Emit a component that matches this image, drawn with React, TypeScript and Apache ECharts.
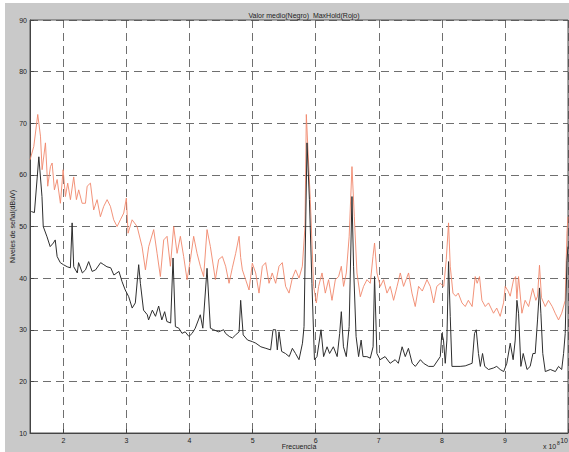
import React, { useEffect, useRef } from "react";
import * as echarts from "echarts";

const TITLE = "Valor medio(Negro)  MaxHold(Rojo)";
const X_NAME = "Frecuencia";
const Y_NAME = "Niveles de señal(dBuV)";
const X_MIN = 1.47;
const X_MAX = 10;
const Y_MIN = 10;
const Y_MAX = 90;

// Valor medio (negro): [frecuencia x1e8, nivel dBuV]
const blackFreq = [
  1.49, 1.54, 1.61, 1.66, 1.68, 1.74, 1.79, 1.84, 1.87, 1.9, 1.95, 2.0, 2.06, 2.11, 2.138, 2.163, 2.22, 2.24, 2.3, 2.35,
  2.4, 2.455, 2.51, 2.59, 2.64, 2.69, 2.75, 2.8, 2.88, 2.93, 2.98, 3.035, 3.09, 3.14, 3.193, 3.22, 3.27, 3.33, 3.35, 3.41,
  3.46, 3.51, 3.56, 3.605, 3.64, 3.7, 3.738, 3.775, 3.83, 3.88, 3.93, 3.99, 4.04, 4.09, 4.14, 4.17, 4.21, 4.277, 4.33, 4.38,
  4.46, 4.54, 4.57, 4.63, 4.68, 4.73, 4.785, 4.81, 4.85, 4.92, 4.995, 5.05, 5.13, 5.21, 5.285, 5.323, 5.365, 5.391, 5.418, 5.46,
  5.52, 5.58, 5.63, 5.68, 5.735, 5.79, 5.815, 5.862, 5.9, 5.94, 5.98, 6.02, 6.084, 6.125, 6.18, 6.22, 6.28, 6.34, 6.38, 6.406,
  6.44, 6.485, 6.53, 6.575, 6.6, 6.64, 6.68, 6.72, 6.75, 6.81, 6.865, 6.91, 6.933, 6.97, 7.02, 7.1, 7.18, 7.26, 7.31, 7.37,
  7.42, 7.47, 7.53, 7.58, 7.66, 7.71, 7.79, 7.87, 7.975, 8.0, 8.026, 8.054, 8.08, 8.106, 8.133, 8.16, 8.29, 8.37, 8.48, 8.518,
  8.545, 8.58, 8.61, 8.645, 8.68, 8.74, 8.82, 8.87, 8.925, 8.98, 9.03, 9.084, 9.13, 9.163, 9.19, 9.216, 9.253, 9.29, 9.35, 9.4,
  9.444, 9.48, 9.517, 9.548, 9.57, 9.6, 9.64, 9.72, 9.8, 9.85, 9.9, 9.93, 9.956, 9.983, 10.0,
];
const blackLevel = [
  52.9, 52.7, 63.5, 55.8, 50, 48, 46.1, 46.8, 47.4, 44.2, 43, 42.6, 42.2, 42, 50.7, 42.2, 41, 43, 41, 41.6,
  43.2, 41.3, 41.6, 43, 42.6, 42.2, 42, 40.6, 41.3, 39.3, 37.7, 36.4, 34.2, 35.2, 42.6, 39, 33.8, 32.9, 31.9, 33.8,
  32.6, 34.6, 31.9, 33.5, 31.6, 31.3, 43.9, 30.6, 30.3, 29.3, 29.6, 28.7, 29.3, 30.3, 31.9, 32.9, 30.3, 41.9, 30.3, 30,
  29.6, 30, 29.3, 28.7, 28.4, 29, 29.6, 35.7, 29, 28, 27.7, 27.4, 26.7, 26.4, 26.1, 30, 30, 26.1, 29.6, 25.8,
  25.4, 24.8, 26.4, 25.4, 24.2, 27.4, 30.6, 66.2, 55.2, 39, 24.2, 24.8, 30, 24.8, 26.7, 25.4, 26.7, 24.8, 29.3, 33.5,
  26.7, 24.8, 30.6, 55.8, 42.3, 28.7, 24.8, 28, 24.8, 24.8, 24.5, 26.7, 40.3, 25.4, 24.2, 24.8, 23.5, 24.2, 23.5, 26.7,
  24.8, 26.4, 23.5, 22.9, 24.2, 23.5, 22.9, 22.9, 24.8, 29.3, 28, 23.5, 28, 43.2, 32.6, 22.9, 22.9, 23, 23.5, 29.3,
  30, 25.4, 22.9, 25.4, 22.9, 22.3, 22.6, 22.9, 22.3, 21.9, 23.5, 27.4, 24.2, 28, 35.7, 33.2, 22.9, 25.4, 22.3, 22.9,
  25.4, 25.4, 31.9, 38.1, 33.2, 25.4, 21.9, 22.3, 21.9, 22.9, 22.3, 25.4, 29.3, 43.4, 46.1,
];

// MaxHold (rojo)
const redFreq = [
  1.47, 1.53, 1.593, 1.636, 1.662, 1.715, 1.751, 1.794, 1.821, 1.857, 1.9, 1.952, 1.995, 2.032, 2.068, 2.111, 2.163, 2.206, 2.242, 2.296,
  2.349, 2.376, 2.428, 2.48, 2.534, 2.586, 2.639, 2.693, 2.745, 2.797, 2.851, 2.903, 2.956, 2.998, 3.025, 3.089, 3.168, 3.247, 3.3, 3.352,
  3.431, 3.485, 3.537, 3.59, 3.643, 3.696, 3.748, 3.802, 3.854, 3.906, 3.96, 4.013, 4.065, 4.119, 4.171, 4.223, 4.277, 4.33, 4.409, 4.461,
  4.52, 4.572, 4.626, 4.678, 4.731, 4.785, 4.81, 4.837, 4.889, 4.943, 4.995, 5.048, 5.101, 5.154, 5.206, 5.26, 5.31, 5.365, 5.418, 5.47,
  5.523, 5.577, 5.629, 5.681, 5.735, 5.788, 5.83, 5.851, 5.914, 5.967, 6.01, 6.046, 6.1, 6.152, 6.204, 6.258, 6.311, 6.363, 6.406, 6.442,
  6.485, 6.53, 6.575, 6.612, 6.654, 6.707, 6.759, 6.813, 6.865, 6.908, 6.933, 6.971, 7.024, 7.076, 7.13, 7.182, 7.235, 7.29, 7.341, 7.393,
  7.472, 7.526, 7.578, 7.631, 7.69, 7.764, 7.816, 7.87, 7.92, 7.975, 8.03, 8.07, 8.106, 8.133, 8.176, 8.22, 8.26, 8.319, 8.371, 8.42,
  8.48, 8.529, 8.56, 8.597, 8.635, 8.688, 8.74, 8.819, 8.87, 8.925, 8.978, 9.005, 9.05, 9.084, 9.137, 9.17, 9.19, 9.216, 9.269, 9.32,
  9.375, 9.44, 9.49, 9.517, 9.548, 9.58, 9.639, 9.69, 9.75, 9.797, 9.85, 9.9, 9.956, 9.983, 10.0,
];
const redLevel = [
  62.9, 65.5, 71.7, 67.5, 61, 66.2, 57.8, 61.6, 62.3, 57.1, 59.1, 54.5, 61, 55.8, 58.4, 55.2, 59.6, 55.2, 57.1, 54.5,
  54.5, 57.8, 58.4, 53.2, 55.2, 51.9, 53.9, 55.2, 53.9, 51.3, 50, 51.3, 52.6, 55.5, 48.7, 51.3, 50, 46.1, 41.6, 46.1,
  49.4, 44.8, 40.3, 47.4, 48.1, 42.3, 50, 44.8, 48.1, 44.2, 39.7, 43.6, 48.1, 44.8, 42.3, 40.3, 49.4, 46.1, 39.7, 43.6,
  44.2, 42.3, 39, 42, 44.8, 48.1, 44, 41.6, 39.7, 37.7, 42.9, 41, 37.1, 42.3, 43, 39, 41, 39, 42.3, 43,
  38.4, 37.1, 40, 41.6, 40, 42.3, 50, 71.7, 55.2, 38.4, 35.2, 38.4, 41, 37.1, 39.7, 35.7, 39.7, 40.3, 42.3, 38.4,
  41, 48, 61.6, 51.9, 41, 36.4, 38.4, 39.7, 39, 44.2, 46.8, 41, 38.4, 39.7, 37.1, 38.4, 35.7, 38.4, 41, 38.4,
  41, 37.1, 34.5, 38.4, 37.5, 39.7, 38.4, 35.2, 38.4, 39, 38.4, 43.6, 50.7, 42.3, 37.1, 36.5, 37.1, 35.2, 34.5, 35.7,
  34.5, 40.3, 39, 40.3, 35.7, 34.5, 35.2, 33.2, 34.2, 32.6, 35.2, 38.4, 37.5, 36.5, 39.7, 40.3, 36, 40.3, 33.2, 35.7,
  34.5, 38, 35.7, 36.5, 42.5, 36.2, 34.5, 35.7, 34.5, 33.2, 31.9, 33.2, 35.7, 48.7, 51.9,
];

const FONT = "'Liberation Sans', Arial, sans-serif";

export default function App() {
  const ref = useRef<HTMLDivElement>(null);
  useEffect(() => {
    document.body.style.margin = "0";
    if (!ref.current) return;
    const chart = echarts.init(ref.current, undefined, { renderer: "svg" });
    const blackData = blackFreq.map((f, i) => [f, blackLevel[i]]);
    const redData = redFreq.map((f, i) => [f, redLevel[i]]);
    const gridLine = { show: true, lineStyle: { color: "#4a4a4a", width: 0.8, type: [8, 5] as number[] } };
    chart.setOption({
      animation: false,
      backgroundColor: "#c9c9c9",
      textStyle: { fontFamily: FONT },
      title: {
        text: TITLE,
        left: 299,
        top: 7,
        textAlign: "center",
        textStyle: { fontSize: 7, fontWeight: "normal", color: "#222", fontFamily: FONT },
      },
      grid: {
        left: 30,
        top: 20,
        right: 1,
        bottom: 19,
        containLabel: false,
        outerBoundsMode: "none",
        show: true,
        backgroundColor: "#ffffff",
        borderColor: "#555",
        borderWidth: 1,
      },
      xAxis: {
        type: "value",
        min: X_MIN,
        max: X_MAX,
        splitNumber: 8,
        minInterval: 1,
        maxInterval: 1,
        name: X_NAME,
        nameLocation: "middle",
        nameGap: 10,
        nameMoveOverlap: false,
        nameTextStyle: { fontSize: 7, color: "#222", fontFamily: FONT },
        axisLine: { show: true, lineStyle: { color: "#444", width: 1 } },
        axisTick: { show: true, inside: true, length: 4, lineStyle: { color: "#444" } },
        axisLabel: { showMinLabel: false, alignMaxLabel: "right", fontSize: 7, color: "#222", margin: 4, fontFamily: FONT },
        splitLine: gridLine,
      },
      yAxis: {
        type: "value",
        min: Y_MIN,
        max: Y_MAX,
        interval: 10,
        name: Y_NAME,
        nameLocation: "middle",
        nameGap: 14,
        nameMoveOverlap: false,
        nameRotate: 90,
        nameTextStyle: { fontSize: 7, color: "#222", fontFamily: FONT },
        axisLine: { show: true, lineStyle: { color: "#444", width: 1 } },
        axisTick: { show: true, inside: true, length: 4, lineStyle: { color: "#444" } },
        axisLabel: { fontSize: 7, color: "#222", margin: 3, fontFamily: FONT },
        splitLine: gridLine,
      },
      graphic: [
        { type: "rect", silent: true, shape: { x: 0, y: 0, width: 5, height: 452 }, style: { fill: "#ffffff" } },
        { type: "rect", silent: true, shape: { x: 0, y: 0, width: 569, height: 3 }, style: { fill: "#ffffff" } },
        { type: "text", left: 543, top: 443, style: { text: "x 10", fontSize: 7, fill: "#222", fontFamily: FONT } },
        { type: "text", left: 557, top: 440, style: { text: "8", fontSize: 5, fill: "#222", fontFamily: FONT } },
      ],
      series: [
        {
          name: "MaxHold",
          type: "line",
          data: redData,
          showSymbol: false,
          symbol: "none",
          lineStyle: { color: "#f0876b", width: 0.9 },
          z: 2,
        },
        {
          name: "Valor medio",
          type: "line",
          data: blackData,
          showSymbol: false,
          symbol: "none",
          lineStyle: { color: "#2e2e2e", width: 1 },
          z: 3,
        },
      ],
    });
    return () => chart.dispose();
  }, []);
  return <div ref={ref} style={{ width: 569, height: 452 }} />;
}
